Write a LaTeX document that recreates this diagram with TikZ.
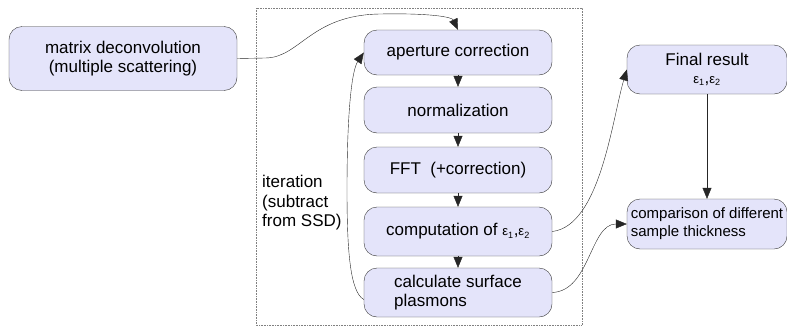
\documentclass[tikz,border=0pt]{standalone}
\usepackage{fontspec}
\setmainfont{Liberation Sans}
\usetikzlibrary{arrows.meta}
\definecolor{lav}{RGB}{228,228,250}
\definecolor{edge}{RGB}{55,55,55}
\newcommand{\epsi}[1]{{\fontsize{13}{13}\selectfont ε\textsubscript{#1}}}
\tikzset{
  stepbox/.style={draw=edge, fill=lav, rounded corners=13pt, align=center,
    font=\fontsize{17}{19}\selectfont, inner sep=2pt},
  flow/.style={-{Triangle[length=11pt,width=9pt]}, draw=black!85},
  frame/.style={draw=gray, densely dotted, line width=0.6pt}
}
\begin{document}
\begin{tikzpicture}[x=1pt, y=-1pt]
\useasboundingbox (0,0) rectangle (787,327);
\draw[frame] (256,8) rectangle (582,325);

\node[stepbox, minimum width=228pt, minimum height=64pt] (deconv) at (123,58.5) {matrix deconvolution\\(multiple scattering)};
\node[stepbox, minimum width=188pt, minimum height=45pt] (aper) at (458,52.5) {aperture correction};
\node[stepbox, minimum width=188pt, minimum height=46pt] (norm) at (458,110) {normalization};
\node[stepbox, minimum width=188pt, minimum height=46pt] (fft) at (458,170) {FFT\ \ (+correction)};
\node[stepbox, minimum width=188pt, minimum height=49pt] (comp) at (458,231.5) {computation of \epsi{1},\epsi{2}};
\node[stepbox, minimum width=188pt, minimum height=49pt, align=left] (plasm) at (458,292.5) {calculate surface\\plasmons};
\node[stepbox, minimum width=160pt, minimum height=49pt] (final) at (707,69.5) {Final result\\[-1pt]\epsi{1},\epsi{2}};
\node[stepbox, minimum width=160pt, minimum height=50pt, align=left, font=\fontsize{15}{18}\selectfont] (thick) at (707,224) {comparison of different\\sample thickness};
\node[anchor=west, align=left, inner sep=0pt, font=\fontsize{17}{19.5}\selectfont] (iter) at (262,203) {iteration\\(subtract\\from SSD)};

\draw[flow] (deconv.east) -- (265,58) .. controls (300,58) and (310,15) .. (380,14) .. controls (430,13) and (452,17) .. (aper.north);
\draw[flow] (aper) -- (norm);
\draw[flow] (norm) -- (fft);
\draw[flow] (fft) -- (comp);
\draw[flow] (comp) -- (plasm);
\draw[flow] ([yshift=-7pt]plasm.west) .. controls (350,292) and (347,250) .. (347,190) .. controls (347,110) and (352,70) .. (aper.west);
\draw[flow] (comp.east) .. controls (600,226) and (612,120) .. (final.west);
\draw[flow] (plasm.east) .. controls (590,291) and (590,224) .. (thick.west);
\draw[flow] (final) -- (thick);
\end{tikzpicture}
\end{document}
